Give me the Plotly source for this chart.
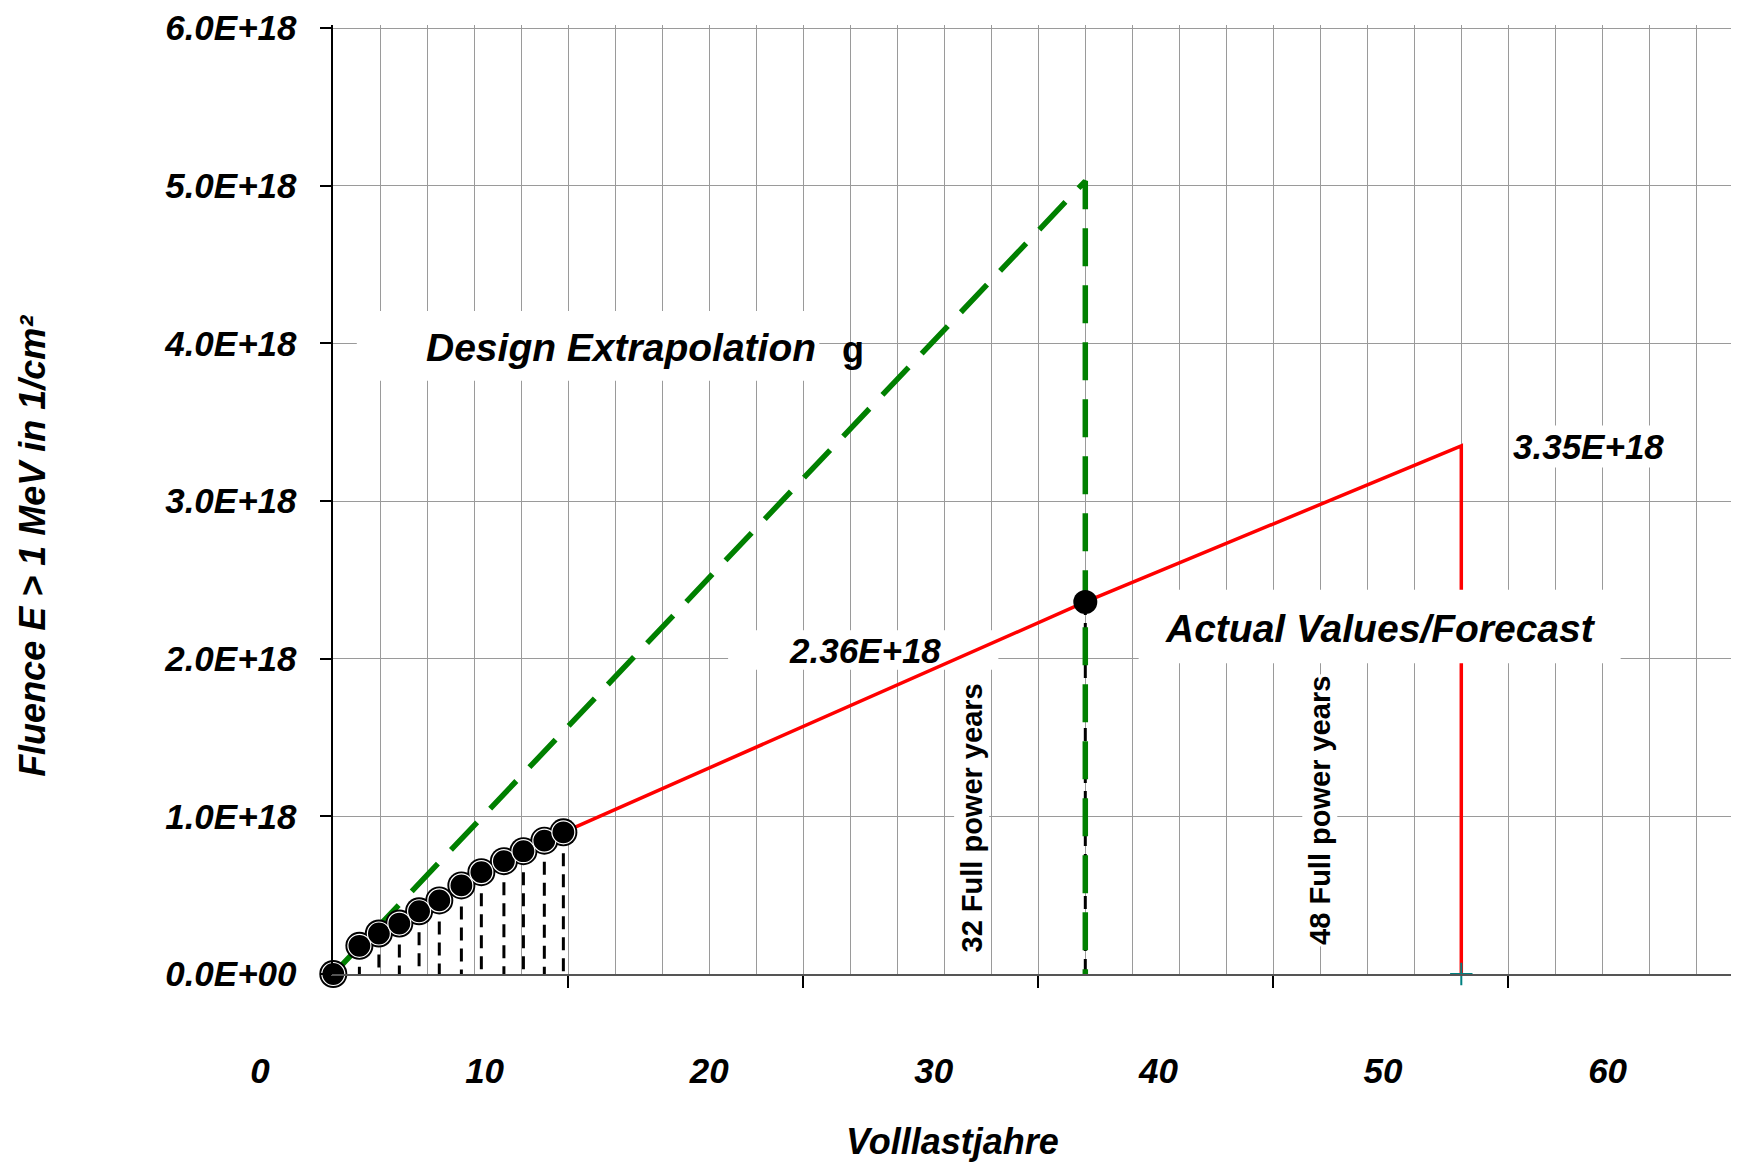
import plotly.graph_objects as go

# ---------------- data (fluence in units of 1E18 1/cm²) ----------------
years_measured = [0, 1.11, 1.94, 2.81, 3.65, 4.51, 5.45, 6.30, 7.26, 8.09, 8.98, 9.79]
fluence_measured = [0, 0.179, 0.257, 0.320, 0.398, 0.467, 0.562, 0.646, 0.716, 0.779, 0.846, 0.899]

forecast_years = [9.79, 32, 48, 48]
forecast_fluence = [0.899, 2.36, 3.35, 0]

design_years = [0, 32, 32]
design_fluence = [0, 5.03, 0]

point32_years = [32]
point32_fluence = [2.36]

end48_years = [48]
end48_fluence = [0]

y_tick_values = [0, 1, 2, 3, 4, 5, 6]
y_tick_labels = ["0.0E+00", "1.0E+18", "2.0E+18", "3.0E+18", "4.0E+18", "5.0E+18", "6.0E+18"]
x_tick_marks = [10, 20, 30, 40, 50]
x_label_values = [0, 10, 20, 30, 40, 50, 60]
x_label_texts = ["0", "10", "20", "30", "40", "50", "60"]

E18 = 1e18
FONT = "Liberation Sans, Arial, sans-serif"

OFF = 8                      # page body margin
W, H = 1739 - OFF, 1163 - OFF
PX_PER_E18 = 158.33
Y_MAX = 6.02
PLOT_BOTTOM = 974 - OFF
PLOT_TOP = PLOT_BOTTOM - Y_MAX * PX_PER_E18
PLOT_LEFT = 333.3 - OFF      # figure px
PX_PER_YEAR = 23.5
LAB_LEFT = 240.0 - OFF
LAB_ZERO = 260.0 - OFF
LAB_PX_PER_UNIT = 22.46
PLOT_H = PLOT_BOTTOM - PLOT_TOP

def paper_x(screen_px):
    return (screen_px - OFF) / W

def paper_y(screen_py):
    return (PLOT_BOTTOM - (screen_py - OFF)) / PLOT_H

fig = go.Figure()

# dashed drop lines from measured points and the 32-year point
drop_x, drop_y = [], []
for xv, yv in zip(years_measured[1:] + point32_years, fluence_measured[1:] + point32_fluence):
    drop_x += [xv, xv, None]
    drop_y += [yv * E18, 0, None]
fig.add_trace(go.Scatter(x=drop_x, y=drop_y, mode="lines",
                         line=dict(color="black", width=3, dash="13px,8px"),
                         hoverinfo="skip", showlegend=False))

# design extrapolation (green dashed)
fig.add_trace(go.Scatter(x=design_years, y=[v * E18 for v in design_fluence], mode="lines",
                         line=dict(color="#008000", width=5.5, dash="38px,19px"),
                         showlegend=False))

# actual values / forecast (red)
fig.add_trace(go.Scatter(x=forecast_years, y=[v * E18 for v in forecast_fluence], mode="lines",
                         line=dict(color="#ff0000", width=3.5),
                         showlegend=False))

# teal cross at the end
fig.add_trace(go.Scatter(x=end48_years, y=end48_fluence, mode="markers",
                         marker=dict(symbol="cross-thin", size=16, line=dict(color="#008080", width=2)),
                         showlegend=False, cliponaxis=False))

# measured points
fig.add_trace(go.Scatter(x=years_measured, y=[v * E18 for v in fluence_measured], mode="markers",
                         marker=dict(color="black", size=28, line=dict(width=0)),
                         showlegend=False, cliponaxis=False))
fig.add_trace(go.Scatter(x=years_measured, y=[v * E18 for v in fluence_measured], mode="markers",
                         marker=dict(color="black", size=23, line=dict(color="white", width=1.2)),
                         showlegend=False, cliponaxis=False))

# point at 32 years
fig.add_trace(go.Scatter(x=point32_years, y=[v * E18 for v in point32_fluence], mode="markers",
                         marker=dict(color="black", size=24, line=dict(width=0)),
                         showlegend=False))

# helper trace for the (offset) label axis
fig.add_trace(go.Scatter(x=[x_label_values[0], x_label_values[-1]], y=[None, None],
                         xaxis="x2", yaxis="y2", mode="markers", showlegend=False,
                         hoverinfo="skip"))

tick_font = dict(family=FONT, size=35, color="black", weight="bold", style="italic")

fig.update_layout(
    width=W, height=H,
    margin=dict(l=0, r=0, t=PLOT_TOP, b=H - PLOT_BOTTOM),
    paper_bgcolor="white", plot_bgcolor="rgba(0,0,0,0)",
    showlegend=False,
    xaxis=dict(
        domain=[PLOT_LEFT / W, 1],
        range=[0, (W - PLOT_LEFT) / PX_PER_YEAR],
        tickmode="array", tickvals=x_tick_marks, showticklabels=False,
        ticks="outside", ticklen=12, tickwidth=1.5, tickcolor="black",
        showgrid=True, gridcolor="#9a9a9a", gridwidth=1.2,
        minor=dict(dtick=2, tick0=0, showgrid=True, gridcolor="#9a9a9a", gridwidth=1.2, ticks=""),
        showline=True, linecolor="#555555", linewidth=2,
        zeroline=False, anchor="y",
    ),
    yaxis=dict(
        domain=[0, 1],
        range=[0, Y_MAX * E18],
        tickmode="array", tickvals=[v * E18 for v in y_tick_values], ticktext=y_tick_labels,
        tickfont=tick_font, ticklabelstandoff=16, ticklabeloverflow="allow",
        ticks="outside", ticklen=12, tickwidth=1.5, tickcolor="black",
        showgrid=True, gridcolor="#9a9a9a", gridwidth=1.2,
        showline=True, linecolor="black", linewidth=1.5,
        zeroline=False, anchor="x",
    ),
    xaxis2=dict(
        domain=[LAB_LEFT / W, 1],
        range=[(LAB_LEFT - LAB_ZERO) / LAB_PX_PER_UNIT, (W - LAB_ZERO) / LAB_PX_PER_UNIT],
        tickmode="array", tickvals=x_label_values, ticktext=x_label_texts,
        tickfont=tick_font, ticks="", ticklabelstandoff=73, ticklabeloverflow="allow",
        showgrid=False, showline=False, zeroline=False, anchor="y2", side="bottom",
    ),
    yaxis2=dict(domain=[0, 1], range=[0, 1], visible=False, anchor="x2",
                showgrid=False, zeroline=False),
)

# white label boxes (drawn above traces)
fig.add_shape(type="rect", xref="x", yref="y", x0=1.0, x1=20.68, y0=3.764 * E18, y1=4.206 * E18,
              fillcolor="white", line=dict(width=0), layer="above")
fig.add_shape(type="rect", xref="x", yref="y", x0=34.27, x1=54.78, y0=1.971 * E18, y1=2.438 * E18,
              fillcolor="white", line=dict(width=0), layer="above")
# background for the 2.36E+18 label: hides gridline, stays below traces
fig.add_shape(type="rect", xref="x", yref="y", x0=16.8, x1=28.3, y0=1.93 * E18, y1=2.18 * E18,
              fillcolor="white", line=dict(width=0), layer="between")

big_font = dict(family=FONT, size=39, color="black", weight="bold", style="italic")
val_font = dict(family=FONT, size=35, color="black", weight="bold", style="italic")
rot_font = dict(family=FONT, size=29, color="black", weight="bold")

def note(x, y, text, font, **kw):
    fig.add_annotation(x=x, y=y, xref="x", yref="y", text=text, showarrow=False, font=font,
                       xanchor="center", yanchor="middle", **kw)

note(12.24, 3.973 * E18, "Design Extrapolation", big_font)
note(22.1, 3.96 * E18, "g", dict(family=FONT, size=36, color="black", weight="bold"))
note(44.58, 2.192 * E18, "Actual Values/Forecast", big_font)
note(53.4, 3.347 * E18, "3.35E+18", val_font, bgcolor="white")
note(22.63, 2.053 * E18, "2.36E+18", val_font)
note(27.16, 0.99 * E18, "32 Full power years", rot_font, textangle=-90, bgcolor="white")
note(41.98, 1.04 * E18, "48 Full power years", rot_font, textangle=-90, bgcolor="white")

# axis titles
fig.add_annotation(x=paper_x(33), y=paper_y(544), xref="paper", yref="paper",
                   xanchor="center", yanchor="middle",
                   text="Fluence E > 1 MeV in 1/cm²", showarrow=False, textangle=-90,
                   font=dict(family=FONT, size=36, color="black", weight="bold", style="italic"))
fig.add_annotation(x=paper_x(952), y=paper_y(1142), xref="paper", yref="paper",
                   xanchor="center", yanchor="middle",
                   text="Volllastjahre", showarrow=False,
                   font=dict(family=FONT, size=36, color="black", weight="bold", style="italic"))

fig.write_html("out.html")
